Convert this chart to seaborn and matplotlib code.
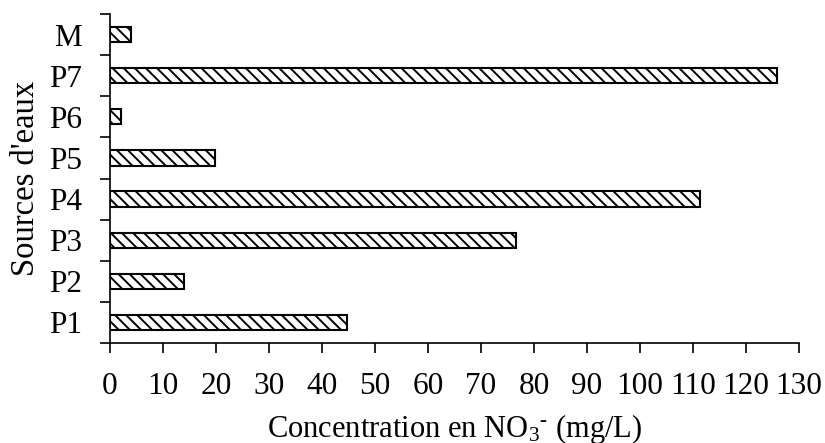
import numpy as np
import pandas as pd
import seaborn as sns
from matplotlib import pyplot as plt

# Data (top to bottom)
sources = ["M", "P7", "P6", "P5", "P4", "P3", "P2", "P1"]
no3_values = [4.0, 125.8, 2.2, 19.9, 111.4, 76.6, 14.0, 44.7]
x_ticks = list(range(0, 131, 10))

sns.set_theme(style="ticks")
plt.rcParams["font.family"] = ["Liberation Serif", "DejaVu Serif"]
plt.rcParams["mathtext.fontset"] = "custom"
plt.rcParams["mathtext.rm"] = "Liberation Serif"
plt.rcParams["mathtext.it"] = "Liberation Serif:italic"
plt.rcParams["hatch.linewidth"] = 1.4
plt.rcParams["hatch.color"] = "black"
plt.rcParams["text.color"] = "black"
plt.rcParams["axes.labelcolor"] = "black"
plt.rcParams["xtick.color"] = "black"
plt.rcParams["ytick.color"] = "black"

df = pd.DataFrame({"source": sources, "no3": no3_values})

fig = plt.figure(figsize=(8.25, 4.43), dpi=100)
ax = fig.add_axes([0.133, 0.226, 0.8355, 0.742])

sns.barplot(data=df, x="no3", y="source", order=sources, orient="h",
            color="white", edgecolor="black", linewidth=1.5, width=0.37,
            ax=ax)
for bar in ax.patches:
    bar.set_hatch("\\" * 3)

ax.set_xlim(0, 130)
ax.set_ylim(len(sources) - 0.5, -0.5)
ax.set_xticks(x_ticks)
ax.set_xticklabels([str(t) for t in x_ticks], fontsize=22.5)

# category labels at centres, tick marks at the boundaries
ax.set_yticks(np.arange(len(sources)))
ax.set_yticklabels(sources, fontsize=22.5)
ax.tick_params(axis="y", which="major", length=0, pad=20)
ax.set_yticks(np.arange(len(sources) + 1) - 0.5, minor=True)
ax.tick_params(axis="y", which="minor", length=7, width=1.2)
ax.tick_params(axis="x", length=7, width=1.2, pad=14)

sns.despine(ax=ax)
for side in ["left", "bottom"]:
    ax.spines[side].set_color("black")
    ax.spines[side].set_linewidth(1.2)

ax.set_xlabel("Concentration en NO$_3$$^{\\text{-}}$ (mg/L)", fontsize=22, labelpad=8)
ax.set_ylabel("Sources d'eaux", fontsize=23.5, labelpad=6)

fig.savefig("out.png", dpi=100, facecolor="white")
